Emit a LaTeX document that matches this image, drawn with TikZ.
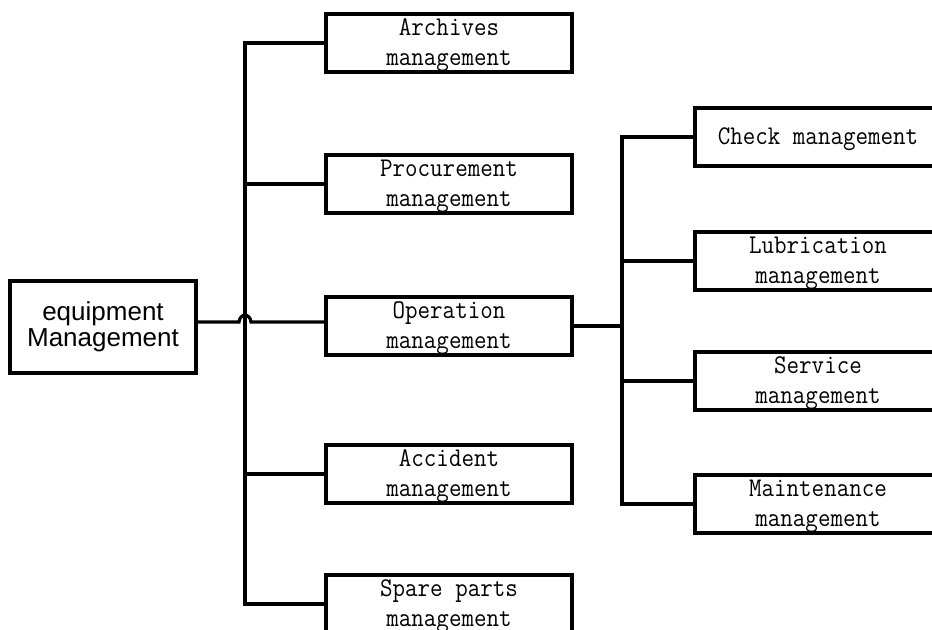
\documentclass[tikz,border=0pt]{standalone}
\usepackage{fontspec}
\newfontfamily\arialfont{Liberation Sans}
\newfontfamily\boxfont{Latin Modern Mono}[FakeStretch=0.9]
\newcommand{\topstrut}{\rule{0pt}{11pt}}

\begin{document}
\begin{tikzpicture}[x=0.5pt,y=-0.5pt,line width=1.6pt,
    box/.style={draw,minimum width=123pt,minimum height=29pt,inner sep=0pt,
      align=center,font=\fontsize{13.5}{15}\selectfont\boxfont},
    rootbox/.style={draw,minimum width=93pt,minimum height=46pt,inner sep=0pt,
      align=center,font=\fontsize{13}{13}\selectfont\arialfont}]
  \useasboundingbox (0,0) rectangle (932,630);
  \clip (0,0) rectangle (932,630);

  \node[rootbox] (root) at (103,327) {equipment\\Management};

  \node[box] (archives)    at (449,43)  {\topstrut Archives\\management};
  \node[box] (procurement) at (449,184) {\topstrut Procurement\\management};
  \node[box] (operation)   at (449,326) {\topstrut Operation\\management};
  \node[box] (accident)    at (449,474) {\topstrut Accident\\management};
  \node[box] (spare)       at (449,604) {\topstrut Spare parts\\management};

  \node[box] (check)       at (818,137) {\topstrut Check management};
  \node[box] (lubrication) at (818,261) {\topstrut Lubrication\\management};
  \node[box] (service)     at (818,381) {\topstrut Service\\management};
  \node[box] (maintenance) at (818,504) {\topstrut Maintenance\\management};

  \coordinate (bus1) at (245,0);
  \coordinate (bus2) at (622,0);
  \coordinate (hopa) at (239,322);
  \coordinate (hopb) at (251,322);

  % first level
  \draw (archives.west) -- (archives.west -| bus1) |- (spare.west);
  \draw (procurement.west) -- (procurement.west -| bus1);
  \draw (accident.west) -- (accident.west -| bus1);
  \draw (root.east |- hopa) -- (hopa) .. controls (240,313) and (250,313) .. (hopb) -- (operation.west |- hopb);

  % second level
  \draw (operation.east) -- (operation.east -| bus2);
  \draw (check.west) -- (check.west -| bus2) |- (maintenance.west);
  \draw (lubrication.west) -- (lubrication.west -| bus2);
  \draw (service.west) -- (service.west -| bus2);
\end{tikzpicture}
\end{document}
